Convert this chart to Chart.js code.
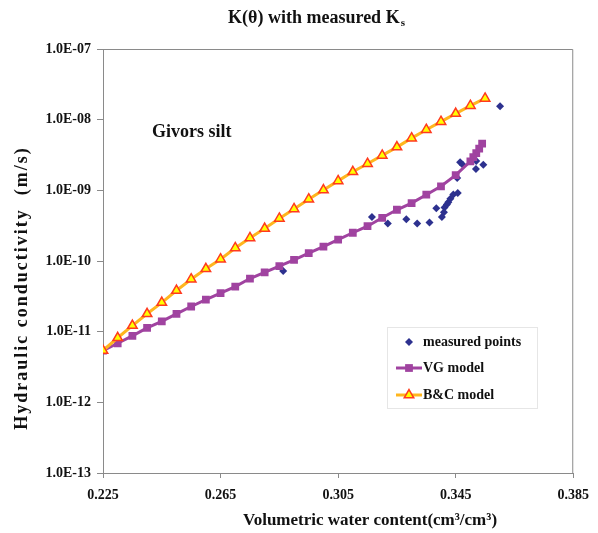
<!DOCTYPE html>
<html>
<head>
<meta charset="utf-8">
<script src="https://cdn.jsdelivr.net/npm/chart.js@4.4.1/dist/chart.umd.min.js"></script>
<style>
  html, body { margin: 0; padding: 0; background: #fff; }
  #wrap { width: 598px; height: 533px; }
</style>
</head>
<body>
<div id="wrap"><canvas id="chart" width="598" height="533"></canvas></div>
<script>
// water content (cm3/cm3) and conductivity (m/s)
const bcTheta = [0.225, 0.230, 0.235, 0.240, 0.245, 0.250, 0.255, 0.260, 0.265,
  0.270, 0.275, 0.280, 0.285, 0.290, 0.295, 0.300, 0.305, 0.310, 0.315, 0.320,
  0.325, 0.330, 0.335, 0.340, 0.345, 0.350, 0.355]
const bcK = [5.4e-12, 8.2e-12, 1.22e-11, 1.79e-11, 2.58e-11, 3.82e-11, 5.52e-11,
  7.76e-11, 1.06e-10, 1.53e-10, 2.12e-10, 2.88e-10, 4.0e-10, 5.46e-10, 7.5e-10,
  1.01e-9, 1.36e-9, 1.83e-9, 2.38e-9, 3.12e-9, 4.09e-9, 5.48e-9, 7.21e-9,
  9.37e-9, 1.22e-8, 1.58e-8, 2.0e-8]

const vgTheta = [0.225, 0.230, 0.235, 0.240, 0.245, 0.250, 0.255, 0.260, 0.265,
  0.270, 0.275, 0.280, 0.285, 0.290, 0.295, 0.300, 0.305, 0.310, 0.315, 0.320,
  0.325, 0.330, 0.335, 0.340, 0.345, 0.350, 0.351, 0.352, 0.353, 0.354]
const vgK = [5.4e-12, 6.85e-12, 8.72e-12, 1.13e-11, 1.40e-11, 1.79e-11, 2.27e-11,
  2.85e-11, 3.50e-11, 4.35e-11, 5.65e-11, 6.92e-11, 8.49e-11, 1.04e-10, 1.29e-10,
  1.60e-10, 2.00e-10, 2.51e-10, 3.11e-10, 4.09e-10, 5.31e-10, 6.59e-10, 8.67e-10,
  1.14e-9, 1.64e-9, 2.57e-9, 2.95e-9, 3.37e-9, 3.88e-9, 4.57e-9]

const measTheta = [0.2863, 0.3165, 0.3219, 0.3282, 0.3319, 0.3361, 0.3384, 0.3403,
  0.3410, 0.3412, 0.3420, 0.3425, 0.3432, 0.3442, 0.3457, 0.3455, 0.3465, 0.3474,
  0.3520, 0.3519, 0.3544, 0.3601]
const measK = [7.2e-11, 4.2e-10, 3.4e-10, 3.9e-10, 3.4e-10, 3.5e-10, 5.6e-10, 4.2e-10,
  4.9e-10, 5.7e-10, 6.3e-10, 6.8e-10, 7.6e-10, 8.7e-10, 9.2e-10, 1.5e-9, 2.5e-9,
  2.3e-9, 2.6e-9, 2.0e-9, 2.3e-9, 1.55e-8]

const xTicks = [0.225, 0.265, 0.305, 0.345, 0.385]
const yExponents = [-13, -12, -11, -10, -9, -8, -7]

const FONT = '"Liberation Serif", "Times New Roman", serif'
const AXIS_COLOR = '#8a8a8a'
const MEAS_COLOR = '#2d318f'
const VG_COLOR = '#a043a0'
const BC_LINE = '#ffb61e'
const BC_FILL = '#ffff00'
const BC_EDGE = '#ff3a1f'

function pairs(xs, ys) {
  return xs.map((x, i) => { return { x: x, y: ys[i] } })
}

function expLabel(v) {
  var e = Math.round(Math.log10(v))
  var s = e < 0 ? '-' : '+'
  return '1.0E' + s + String(Math.abs(e)).padStart(2, '0')
}

// texts, frame and legend drawn on top of the plot
const decorations = {
  id: 'decorations',
  afterDraw(chart) {
    const ctx = chart.ctx
    const a = chart.chartArea
    ctx.save()

    // frame top / right
    ctx.strokeStyle = AXIS_COLOR
    ctx.lineWidth = 1
    ctx.beginPath()
    ctx.moveTo(a.left, a.top + 0.5)
    ctx.lineTo(a.right - 0.5, a.top + 0.5)
    ctx.lineTo(a.right - 0.5, a.bottom)
    ctx.stroke()

    ctx.fillStyle = '#111'
    ctx.textBaseline = 'middle'

    // title with subscript
    ctx.font = 'bold 18px ' + FONT
    const t1 = 'K(\u03b8) with measured K'
    const w1 = ctx.measureText(t1).width
    ctx.font = 'bold 11px ' + FONT
    const w2 = ctx.measureText('s').width
    let tx = 316 - (w1 + w2) / 2
    ctx.font = 'bold 18px ' + FONT
    ctx.textAlign = 'left'
    ctx.fillText(t1, tx, 18)
    ctx.font = 'bold 11px ' + FONT
    ctx.fillText('s', tx + w1 + 1, 23)

    // soil name
    ctx.font = 'bold 18px ' + FONT
    ctx.fillText('Givors silt', 152, 132)

    // axis titles
    ctx.font = 'bold 17px ' + FONT
    ctx.textAlign = 'center'
    ctx.fillText('Volumetric water content(cm\u00b3/cm\u00b3)', 370, 521)
    ctx.save()
    ctx.translate(22, 288)
    ctx.rotate(-Math.PI / 2)
    ctx.font = 'bold 18px ' + FONT
    ctx.letterSpacing = '2px'
    ctx.fillText('Hydraulic conductivity  (m/s)', 0, 0)
    ctx.restore()

    // legend
    ctx.strokeStyle = '#e6e6e6'
    ctx.strokeRect(387.5, 327.5, 150, 81)
    ctx.font = 'bold 14px ' + FONT
    ctx.textAlign = 'left'
    const rows = [342, 368, 395]
    ctx.fillStyle = MEAS_COLOR
    Chart.helpers.drawPoint(ctx, { pointStyle: 'rectRot', radius: 4, rotation: 0, borderWidth: 0 }, 409, rows[0])
    ctx.lineWidth = 3
    ctx.strokeStyle = VG_COLOR
    ctx.beginPath(); ctx.moveTo(396, rows[1]); ctx.lineTo(422, rows[1]); ctx.stroke()
    ctx.fillStyle = VG_COLOR
    Chart.helpers.drawPoint(ctx, { pointStyle: 'rect', radius: 5.5, rotation: 0, borderWidth: 0 }, 409, rows[1])
    ctx.strokeStyle = BC_LINE
    ctx.beginPath(); ctx.moveTo(396, rows[2]); ctx.lineTo(422, rows[2]); ctx.stroke()
    ctx.fillStyle = BC_FILL
    ctx.strokeStyle = BC_EDGE
    ctx.lineWidth = 1.5
    Chart.helpers.drawPoint(ctx, { pointStyle: 'triangle', radius: 5.5, rotation: 0, borderWidth: 1.5 }, 409, rows[2])
    ctx.fillStyle = '#111'
    ctx.fillText('measured points', 423, rows[0])
    ctx.fillText('VG model', 423, rows[1])
    ctx.fillText('B&C model', 423, rows[2])

    ctx.restore()
  }
}

const ctx = document.getElementById('chart').getContext('2d')
new Chart(ctx, {
  type: 'scatter',
  data: {
    datasets: [
      {
        label: 'B&C model',
        data: pairs(bcTheta, bcK),
        showLine: true,
        borderColor: BC_LINE,
        borderWidth: 3,
        pointStyle: 'triangle',
        pointRadius: 5.5,
        pointBackgroundColor: BC_FILL,
        pointBorderColor: BC_EDGE,
        pointBorderWidth: 1.5,
        order: 0
      },
      {
        label: 'VG model',
        data: pairs(vgTheta, vgK),
        showLine: true,
        borderColor: VG_COLOR,
        borderWidth: 3,
        pointStyle: 'rect',
        pointRadius: 5.5,
        pointBackgroundColor: VG_COLOR,
        pointBorderWidth: 0,
        order: 1
      },
      {
        label: 'measured points',
        data: pairs(measTheta, measK),
        pointStyle: 'rectRot',
        pointRadius: 4,
        backgroundColor: MEAS_COLOR,
        borderWidth: 0,
        order: 2
      }
    ]
  },
  options: {
    responsive: false,
    animation: false,
    layout: { padding: { top: 49, right: 24, left: 0, bottom: 0 } },
    plugins: {
      legend: { display: false },
      tooltip: { enabled: false }
    },
    scales: {
      x: {
        type: 'linear',
        min: 0.225,
        max: 0.385,
        afterBuildTicks: function(scale) {
          scale.ticks = xTicks.map(v => { return { value: v } })
        },
        afterFit: function(scale) { scale.height = 60 },
        ticks: {
          color: '#111',
          padding: 9,
          font: { family: FONT, size: 14, weight: 'bold' },
          callback: function(v) { return v.toFixed(3) }
        },
        grid: { drawOnChartArea: false, color: AXIS_COLOR, tickLength: 5 },
        border: { color: AXIS_COLOR }
      },
      y: {
        type: 'logarithmic',
        min: 1e-13,
        max: 1e-7,
        afterBuildTicks: function(scale) {
          scale.ticks = yExponents.map(e => { return { value: Math.pow(10, e) } })
        },
        afterFit: function(scale) { scale.width = 103 },
        ticks: {
          color: '#111',
          padding: 6,
          font: { family: FONT, size: 14, weight: 'bold' },
          callback: function(v) { return expLabel(v) }
        },
        grid: { drawOnChartArea: false, color: AXIS_COLOR, tickLength: 6 },
        border: { color: AXIS_COLOR }
      }
    }
  },
  plugins: [decorations]
})
</script>
</body>
</html>
